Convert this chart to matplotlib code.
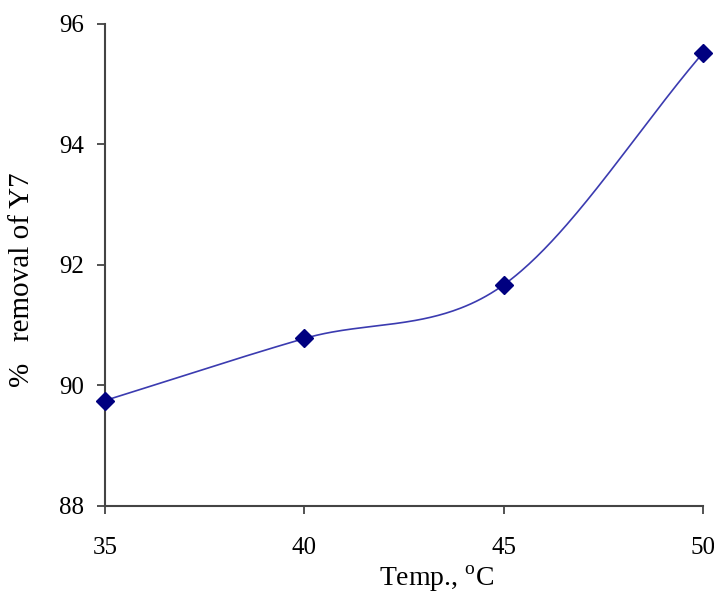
import numpy as np
import matplotlib
matplotlib.use("Agg")
import matplotlib.pyplot as plt

temps = [35, 40, 45, 50]
removal = [89.75, 90.78, 91.67, 95.52]
xticks = [35, 40, 45, 50]
yticks = [88, 90, 92, 94, 96]

plt.rcParams['font.family'] = ['Liberation Serif', 'DejaVu Serif']
plt.rcParams['mathtext.fontset'] = 'custom'
plt.rcParams['mathtext.rm'] = 'Liberation Serif'

W, H = 7.14, 6.03
L, B, AW, AH = 0.147, 0.1609, 0.8376, 0.7993
fig = plt.figure(figsize=(W, H), dpi=100)
ax = fig.add_axes([L, B, AW, AH])
xlim = (35, 50)
ylim = (88, 96)

# Excel-like smoothed curve (Catmull-Rom Bezier in screen space)
px = (np.array(temps, float) - xlim[0]) / (xlim[1] - xlim[0]) * AW * W
py = (np.array(removal, float) - ylim[0]) / (ylim[1] - ylim[0]) * AH * H
P = np.column_stack([px, py])
n = len(P)
curve = []
t = np.linspace(0, 1, 80)
for i in range(n - 1):
    p1 = P[i]
    p2 = P[i + 1]
    p0 = P[i - 1] if i > 0 else 2 * p1 - p2
    p3 = P[i + 2] if i + 2 < n else 2 * p2 - p1
    c1 = p1 + (p2 - p0) / 6.0
    c2 = p2 - (p3 - p1) / 6.0
    seg = ((1 - t)[:, None] ** 3 * p1 + 3 * ((1 - t) ** 2 * t)[:, None] * c1
           + 3 * ((1 - t) * t ** 2)[:, None] * c2 + (t ** 3)[:, None] * p2)
    curve.append(seg)
curve = np.vstack(curve)
cx = curve[:, 0] / (AW * W) * (xlim[1] - xlim[0]) + xlim[0]
cy = curve[:, 1] / (AH * H) * (ylim[1] - ylim[0]) + ylim[0]

ax.plot(cx, cy, color='#3b3bb0', lw=1.2, zorder=2, clip_on=False)
ax.plot(temps, removal, linestyle='none', marker='D', markersize=9.5,
        color='#000080', zorder=3, clip_on=False)

ax.set_xlim(*xlim)
ax.set_ylim(*ylim)
ax.set_xticks(xticks)
ax.set_yticks(yticks)
ax.tick_params(axis='both', direction='out', length=6, width=1.3, color='#444444',
               labelsize=18)
ax.tick_params(axis='y', pad=9)
ax.tick_params(axis='x', pad=16)
for s in ['top', 'right']:
    ax.spines[s].set_visible(False)
for s in ['left', 'bottom']:
    ax.spines[s].set_color('#444444')
    ax.spines[s].set_linewidth(1.5)

xl = ax.set_xlabel('Temp., $^{\\rm o}$C', fontsize=20, va='center')
ax.xaxis.set_label_coords(0.555, -0.152)
yl = ax.set_ylabel('%   removal of Y7', fontsize=21, va='center')
ax.yaxis.set_label_coords(-0.139, 0.469)

fig.savefig('out.png', dpi=100)
